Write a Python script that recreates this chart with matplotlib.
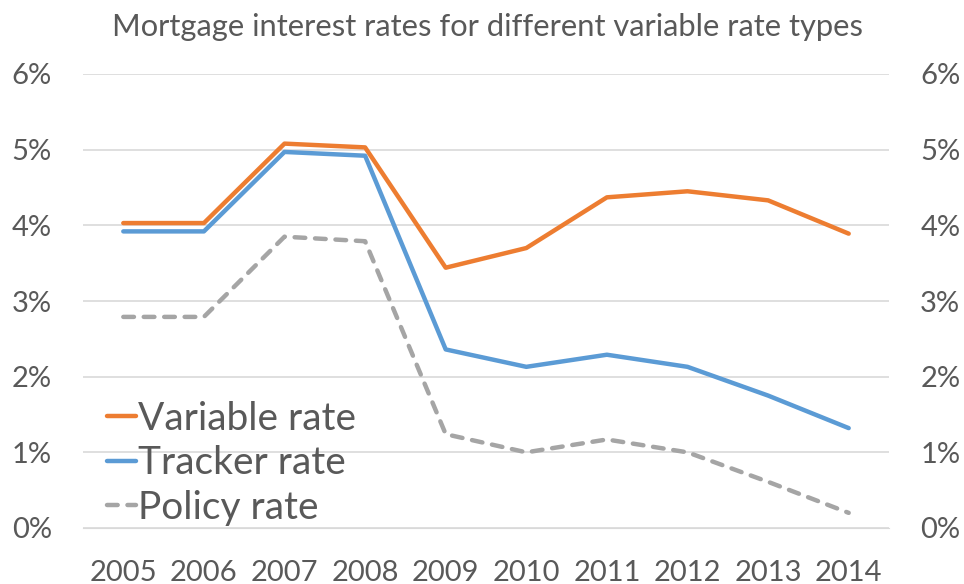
import matplotlib
matplotlib.use("Agg")
import matplotlib.pyplot as plt
from matplotlib.ticker import FuncFormatter

years = ["2005", "2006", "2007", "2008", "2009", "2010", "2011", "2012", "2013", "2014"]
variable_rate = [4.03, 4.03, 5.08, 5.03, 3.44, 3.70, 4.37, 4.45, 4.33, 3.89]
tracker_rate = [3.92, 3.92, 4.97, 4.92, 2.36, 2.13, 2.29, 2.13, 1.75, 1.32]
policy_rate = [2.79, 2.79, 3.85, 3.79, 1.24, 1.00, 1.17, 1.00, 0.61, 0.20]
y_ticks = [0, 1, 2, 3, 4, 5, 6]

plt.rcParams['font.family'] = ['Lato', 'DejaVu Sans']
txt = '#595959'

fig = plt.figure(figsize=(9.64, 5.84), dpi=100)
ax = fig.add_axes([83 / 964, 1 - 528 / 584, (889 - 83) / 964, (528 - 74) / 584])

x = list(range(len(years)))
ax.plot(x, variable_rate, color='#ED7D31', lw=3.2, solid_capstyle='round', label='Variable rate')
ax.plot(x, tracker_rate, color='#5B9BD5', lw=3.2, solid_capstyle='round', label='Tracker rate')
ax.plot(x, policy_rate, color='#A5A5A5', lw=3.2, dashes=(2.4, 2.2), dash_capstyle='round', label='Policy rate')

ax.set_xlim(-0.5, len(years) - 0.5)
ax.set_ylim(0, 6)
ax.set_yticks(y_ticks)
ax.yaxis.set_major_formatter(FuncFormatter(lambda v, p: f"{v:.0f}%"))
ax.set_xticks(x)
ax.set_xticklabels(years)
ax.grid(axis='y', color='#D9D9D9', lw=1.2)
ax.set_axisbelow(True)
for s in ax.spines.values():
    s.set_visible(False)
ax.spines['bottom'].set_visible(True)
ax.spines['bottom'].set_color('#D9D9D9')
ax.tick_params(axis='both', length=0, labelsize=21, colors=txt)
ax.tick_params(axis='y', pad=22.3)
ax.tick_params(axis='x', pad=23)

ax2 = ax.twinx()
ax2.set_ylim(0, 6)
ax2.set_yticks(y_ticks)
ax2.yaxis.set_major_formatter(FuncFormatter(lambda v, p: f"{v:.0f}%"))
for s in ax2.spines.values():
    s.set_visible(False)
ax2.tick_params(axis='y', length=0, labelsize=21, colors=txt, pad=22.5)

fig.text(0.5 + 5.5 / 964, 1 - 36 / 584, 'Mortgage interest rates for different variable rate types',
         ha='center', va='baseline', fontsize=22.2, color=txt)

leg = ax.legend(loc='lower left', bbox_to_anchor=(-0.004, -0.055), frameon=False,
                fontsize=28, handlelength=0.75, handletextpad=0.05,
                labelspacing=0.22, borderaxespad=0.3, labelcolor=txt)

fig.savefig('out.png', dpi=100, facecolor='white')
